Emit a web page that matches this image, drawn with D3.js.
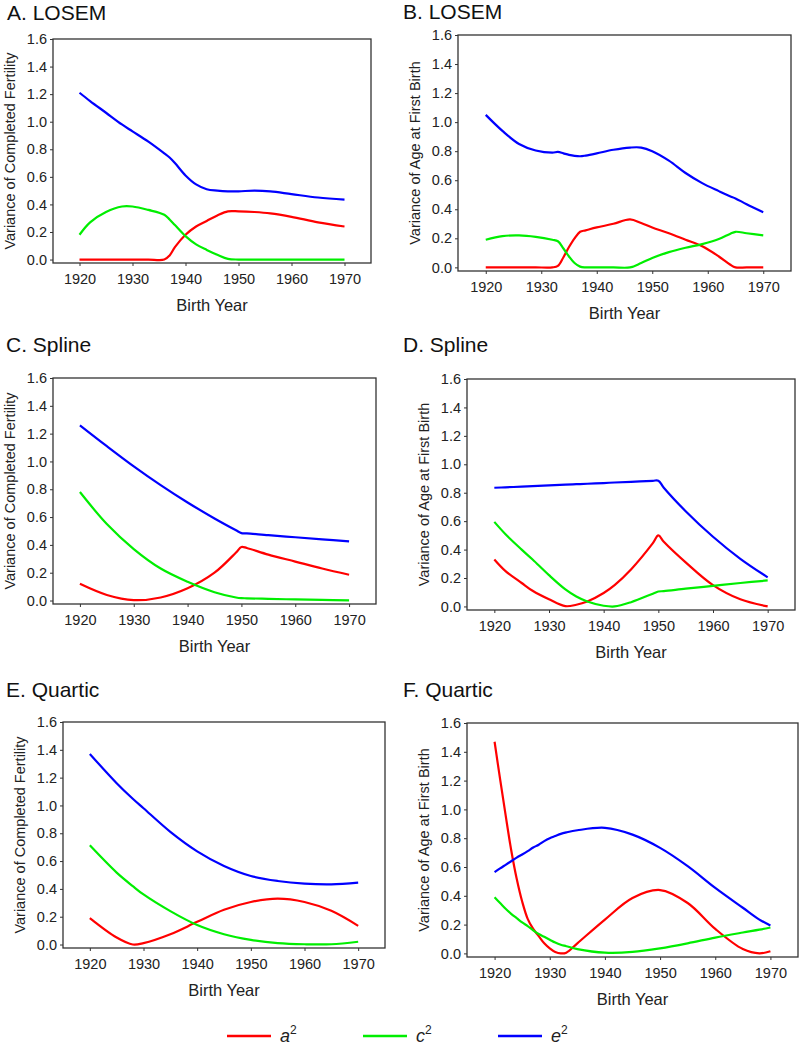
<!DOCTYPE html>
<html>
<head>
<meta charset="utf-8">
<script src="https://cdn.jsdelivr.net/npm/d3@7"></script>
<style>
  body { margin: 0; background: #fff; }
  svg { display: block; font-family: "Liberation Sans", Arial, sans-serif; }
  .axis text { font-size: 14.5px; fill: #222; }
  .axis path, .axis line { stroke: #333; }
</style>
</head>
<body>
<div id="chart"></div>
<script>
// ---- data ----
const xTicks = [1920, 1930, 1940, 1950, 1960, 1970];
const yTicks = [0, 0.2, 0.4, 0.6, 0.8, 1.0, 1.2, 1.4, 1.6];
const seriesNames = ["a2", "c2", "e2"];

// A. LOSEM - completed fertility
const yearsA = [1920, 1922, 1925, 1928, 1930, 1933, 1936, 1937, 1938, 1940, 1942, 1944, 1946, 1948, 1950, 1953, 1956, 1960, 1965, 1970];
const a2A = [0, 0, 0, 0, 0, 0, 0, 0.03, 0.09, 0.18, 0.24, 0.28, 0.32, 0.35, 0.35, 0.345, 0.335, 0.31, 0.27, 0.24];
const c2A = [0.18, 0.27, 0.345, 0.385, 0.385, 0.36, 0.325, 0.29, 0.25, 0.17, 0.11, 0.07, 0.035, 0.005, 0, 0, 0, 0, 0, 0];
const e2A = [1.21, 1.15, 1.065, 0.98, 0.93, 0.855, 0.77, 0.74, 0.70, 0.61, 0.545, 0.51, 0.5, 0.495, 0.495, 0.5, 0.495, 0.475, 0.45, 0.435];

// B. LOSEM - age at first birth
const yearsB = [1920, 1923, 1926, 1929, 1932, 1933, 1934, 1935, 1936, 1937, 1938, 1940, 1943, 1946, 1948, 1950, 1953, 1956, 1959, 1962, 1964, 1965, 1967, 1970];
const a2B = [0, 0, 0, 0, 0, 0.01, 0.07, 0.14, 0.2, 0.245, 0.255, 0.275, 0.3, 0.33, 0.305, 0.275, 0.235, 0.19, 0.145, 0.075, 0.02, 0, 0, 0];
const c2B = [0.19, 0.215, 0.22, 0.21, 0.19, 0.18, 0.13, 0.075, 0.03, 0.005, 0, 0, 0, 0, 0.03, 0.065, 0.105, 0.135, 0.16, 0.195, 0.23, 0.245, 0.235, 0.22];
const e2B = [1.05, 0.94, 0.85, 0.805, 0.79, 0.795, 0.785, 0.775, 0.768, 0.765, 0.77, 0.785, 0.81, 0.825, 0.825, 0.80, 0.735, 0.65, 0.58, 0.525, 0.49, 0.475, 0.435, 0.38];

// C. Spline - completed fertility
const yearsC = [1920, 1925, 1930, 1935, 1940, 1945, 1949, 1950, 1951, 1955, 1960, 1965, 1970];
const a2C = [0.12, 0.04, 0.003, 0.022, 0.088, 0.2, 0.345, 0.385, 0.378, 0.33, 0.28, 0.23, 0.185];
const c2C = [0.78, 0.55, 0.37, 0.23, 0.135, 0.06, 0.022, 0.017, 0.016, 0.012, 0.008, 0.004, 0.001];
const e2C = [1.26, 1.11, 0.965, 0.83, 0.705, 0.59, 0.505, 0.485, 0.483, 0.47, 0.455, 0.44, 0.425];

// D. Spline - age at first birth
const yearsD = [1920, 1922, 1925, 1927, 1930, 1933, 1935, 1937, 1940, 1942, 1945, 1949, 1950, 1951, 1955, 1960, 1965, 1970];
const a2D = [0.33, 0.25, 0.165, 0.11, 0.05, 0.002, 0.012, 0.035, 0.095, 0.15, 0.26, 0.445, 0.50, 0.455, 0.31, 0.15, 0.05, 0.0];
const c2D = [0.595, 0.51, 0.40, 0.33, 0.22, 0.12, 0.07, 0.035, 0.005, 0.0, 0.03, 0.09, 0.105, 0.108, 0.125, 0.145, 0.165, 0.183];
const e2D = [0.835, 0.838, 0.843, 0.847, 0.852, 0.857, 0.86, 0.863, 0.868, 0.872, 0.877, 0.884, 0.885, 0.835, 0.67, 0.49, 0.335, 0.205];

// E. Quartic - completed fertility
const yearsE = [1920, 1925, 1928, 1930, 1935, 1940, 1945, 1950, 1955, 1960, 1965, 1970];
const a2E = [0.19, 0.05, 0.0, 0.01, 0.074, 0.163, 0.25, 0.306, 0.33, 0.306, 0.242, 0.134];
const c2E = [0.713, 0.517, 0.42, 0.36, 0.24, 0.14, 0.074, 0.033, 0.01, 0.002, 0.002, 0.02];
const e2E = [1.37, 1.16, 1.048, 0.98, 0.81, 0.67, 0.565, 0.493, 0.457, 0.438, 0.433, 0.445];

// F. Quartic - age at first birth
const yearsF = [1920, 1921, 1922, 1923, 1924, 1925, 1926, 1927, 1928, 1929, 1930, 1931, 1932, 1933, 1935, 1940, 1945, 1950, 1955, 1960, 1965, 1968, 1970];
const a2F = [1.47, 1.21, 0.96, 0.72, 0.52, 0.36, 0.24, 0.17, 0.12, 0.07, 0.035, 0.01, 0.0, 0.005, 0.07, 0.235, 0.385, 0.44, 0.35, 0.17, 0.03, 0.0, 0.015];
const c2F = [0.39, 0.35, 0.31, 0.275, 0.245, 0.215, 0.19, 0.16, 0.135, 0.115, 0.095, 0.075, 0.06, 0.05, 0.03, 0.005, 0.01, 0.035, 0.07, 0.11, 0.145, 0.165, 0.18];
const e2F = [0.564, 0.59, 0.615, 0.64, 0.665, 0.687, 0.71, 0.735, 0.755, 0.78, 0.80, 0.815, 0.83, 0.84, 0.855, 0.872, 0.825, 0.733, 0.606, 0.455, 0.317, 0.235, 0.194];

const CONFIG = {
  width: 800,
  height: 1046,
  colors: { a2: "#ff0000", c2: "#00ee00", e2: "#0000ff" },
  xDomain: [1915, 1975],
  yDomain: [-0.025, 1.6]
};

// panel boxes (left, top, right, bottom) and title positions
const panels = [
  { title: "A. LOSEM", ylab: "Variance of Completed Fertility", years: yearsA, vals: [a2A, c2A, e2A], box: [53, 39, 371, 263], tx: 7, ty: 20 },
  { title: "B. LOSEM", ylab: "Variance of Age at First Birth", years: yearsB, vals: [a2B, c2B, e2B], box: [458, 35, 791, 271], tx: 403, ty: 19 },
  { title: "C. Spline", ylab: "Variance of Completed Fertility", years: yearsC, vals: [a2C, c2C, e2C], box: [53, 378, 376, 604], tx: 6, ty: 352 },
  { title: "D. Spline", ylab: "Variance of Age at First Birth", years: yearsD, vals: [a2D, c2D, e2D], box: [467, 379, 795, 610], tx: 403, ty: 352 },
  { title: "E. Quartic", ylab: "Variance of Completed Fertility", years: yearsE, vals: [a2E, c2E, e2E], box: [63, 722, 385, 948], tx: 6, ty: 697 },
  { title: "F. Quartic", ylab: "Variance of Age at First Birth", years: yearsF, vals: [a2F, c2F, e2F], box: [467, 723, 798, 957], tx: 403, ty: 697 }
];

const svg = d3.select("#chart")
  .append("svg")
  .attr("width", CONFIG.width)
  .attr("height", CONFIG.height);

function drawPanel(p) {
  const [l, t, r, b] = p.box;
  const x = d3.scaleLinear().domain(CONFIG.xDomain).range([l, r]);
  const y = d3.scaleLinear().domain(CONFIG.yDomain).range([b, t]);

  const g = svg.append("g").classed("panel", true);

  // title
  g.append("text")
    .attr("x", p.tx)
    .attr("y", p.ty)
    .style("font-size", "21px")
    .style("fill", "#111")
    .text(p.title);

  // frame
  g.append("rect")
    .attr("x", l)
    .attr("y", t)
    .attr("width", r - l)
    .attr("height", b - t)
    .attr("fill", "none")
    .attr("stroke", "#333")
    .attr("stroke-width", 1.3);

  // axes
  g.append("g")
    .attr("class", "axis")
    .attr("transform", "translate(" + l + ",0)")
    .call(d3.axisLeft(y).tickValues(yTicks).tickFormat(d3.format(".1f")).tickSize(3).tickPadding(3))
    .call(a => a.select(".domain").remove());

  g.append("g")
    .attr("class", "axis")
    .attr("transform", "translate(0," + b + ")")
    .call(d3.axisBottom(x).tickValues(xTicks).tickFormat(d3.format("d")).tickSize(3).tickPadding(8))
    .call(a => a.select(".domain").remove());

  // axis titles
  g.append("text")
    .attr("x", (l + r) / 2)
    .attr("y", b + 48)
    .style("text-anchor", "middle")
    .style("font-size", "16.5px")
    .style("fill", "#222")
    .text("Birth Year");

  g.append("text")
    .attr("transform", "translate(" + (l - 38) + "," + ((t + b) / 2) + ") rotate(-90)")
    .style("text-anchor", "middle")
    .style("font-size", "14.5px")
    .style("fill", "#222")
    .text(p.ylab);

  // lines
  const line = d3.line()
    .x(d => x(d[0]))
    .y(d => y(d[1]))
    .curve(d3.curveCatmullRom.alpha(0.5));

  seriesNames.forEach((name, i) => {
    const pts = p.years.map((yr, k) => [yr, p.vals[i][k]]);
    g.append("path")
      .datum(pts)
      .attr("fill", "none")
      .attr("stroke", CONFIG.colors[name])
      .attr("stroke-width", 2.2)
      .attr("stroke-linejoin", "round")
      .attr("d", line);
  });
}

panels.forEach(drawPanel);

// legend
const legendItems = [
  { key: "a2", base: "a", x: 227 },
  { key: "c2", base: "c", x: 363 },
  { key: "e2", base: "e", x: 498 }
];

const leg = svg.append("g").attr("transform", "translate(0,1036)");
legendItems.forEach(d => {
  leg.append("line")
    .attr("x1", d.x)
    .attr("x2", d.x + 44)
    .attr("y1", 0)
    .attr("y2", 0)
    .attr("stroke", CONFIG.colors[d.key])
    .attr("stroke-width", 2.5);
  const t = leg.append("text")
    .attr("x", d.x + 53)
    .attr("y", 6)
    .style("font-size", "18px")
    .style("font-style", "italic")
    .style("fill", "#222")
    .text(d.base);
  t.append("tspan")
    .attr("dy", -8)
    .style("font-size", "12px")
    .style("font-style", "normal")
    .text("2");
});
</script>
</body>
</html>
